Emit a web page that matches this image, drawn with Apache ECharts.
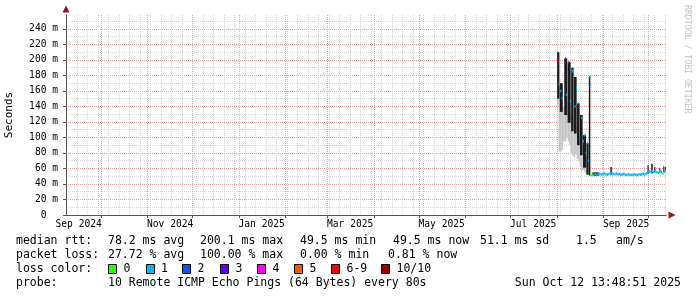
<!DOCTYPE html>
<html><head><meta charset="utf-8">
<script src="https://cdn.jsdelivr.net/npm/echarts@6/dist/echarts.min.js"></script>
<style>html,body{margin:0;padding:0;background:#fff}#c{width:697px;height:297px}</style>
</head><body><div id="c"></div>
<script>
// ---------- data ----------
const endTime = '2025-10-12 13:48:51';
const spanDays = 400;
const yMax = 258;
const yMajorTicks = [0,20,40,60,80,100,120,140,160,180,200,220,240];
const yMinorTicks = [10,30,50,70,90,110,130,150,170,190,210,230,250];
const xMajorMonths = ['2024-10-01','2024-11-01','2024-12-01','2025-01-01','2025-02-01','2025-03-01','2025-04-01','2025-05-01','2025-06-01','2025-07-01','2025-08-01','2025-09-01','2025-10-01'];
const xLabelDates = ['2024-09-16','2024-11-16','2025-01-16','2025-03-16','2025-05-16','2025-07-16','2025-09-16'];
const xLabelText = ['Sep 2024','Nov 2024','Jan 2025','Mar 2025','May 2025','Jul 2025','Sep 2025'];

// light smoke (daily)
const smokeDays = ['2025-08-01','2025-08-02','2025-08-03','2025-08-04','2025-08-05','2025-08-06','2025-08-07','2025-08-08','2025-08-09','2025-08-10','2025-08-11','2025-08-12','2025-08-13','2025-08-14','2025-08-15','2025-08-16','2025-08-17','2025-08-18','2025-08-19','2025-08-20','2025-08-21','2025-08-22'];
const smokeLow  = [140,82,82,84,95,95,100,95,90,80,77,75,78,72,69,62,56,58,56,54,53,51];
const smokeHigh = [185,165,150,145,140,150,145,140,135,130,125,120,115,108,100,95,90,85,80,75,70,60];

// dark smoke bars
const barStart = ['2025-08-01 00:00','2025-08-02 18:00','2025-08-05 18:00','2025-08-08 00:00','2025-08-10 08:00','2025-08-12 06:00','2025-08-14 06:00','2025-08-16 06:00','2025-08-18 06:00','2025-08-20 12:00','2025-08-22 03:00','2025-08-24 12:00','2025-09-05 12:00','2025-09-30 06:00','2025-10-02 18:00','2025-10-04 18:00','2025-10-08 00:00','2025-10-10 18:00','2025-10-12 00:00'];
const barEnd   = ['2025-08-02 12:00','2025-08-04 18:00','2025-08-07 18:00','2025-08-10 00:00','2025-08-12 00:00','2025-08-14 00:00','2025-08-16 00:00','2025-08-18 00:00','2025-08-20 06:00','2025-08-22 00:00','2025-08-23 03:00','2025-08-29 00:00','2025-09-06 12:00','2025-10-01 00:00','2025-10-03 18:00','2025-10-05 12:00','2025-10-08 18:00','2025-10-11 12:00','2025-10-12 12:00'];
const barLow   = [150,133,129,119,108,105,90,77,61,52,51,50.5,52,53,54,55,55,55,56];
const barHigh  = [210,170,202,197,190,178,144,129,103,93,179,55,62,64.5,66,62,60,63,62];

// median rtt marks (coloured by loss)
const markTime = ['2025-08-01 06:00','2025-08-02 00:00','2025-08-03 00:00','2025-08-04 00:00','2025-08-06 06:00','2025-08-07 00:00','2025-08-08 12:00','2025-08-09 12:00','2025-08-10 12:00','2025-08-11 00:00','2025-08-12 12:00','2025-08-13 12:00','2025-08-14 12:00','2025-08-15 12:00','2025-08-17 00:00','2025-08-18 00:00','2025-08-19 00:00','2025-08-20 00:00','2025-08-21 00:00','2025-08-21 12:00','2025-08-22 12:00','2025-08-22 18:00'];
const markValue = [198,169,160,151,202,155,197,147,187,185,140,164,144,138,125,95,103,80,93,70,178,168];
const markLoss  = [6,1,1,1,3,1,3,1,1,1,1,1,1,1,1,1,1,1,1,1,1,1];

// median rtt line (daily)
const lineDays = ['2025-08-23','2025-08-24','2025-08-25','2025-08-26','2025-08-27','2025-08-28','2025-08-29','2025-08-30','2025-08-31','2025-09-01','2025-09-02','2025-09-03','2025-09-04','2025-09-05','2025-09-06','2025-09-07','2025-09-08','2025-09-09','2025-09-10','2025-09-11','2025-09-12','2025-09-13','2025-09-14','2025-09-15','2025-09-16','2025-09-17','2025-09-18','2025-09-19','2025-09-20','2025-09-21','2025-09-22','2025-09-23','2025-09-24','2025-09-25','2025-09-26','2025-09-27','2025-09-28','2025-09-29','2025-09-30','2025-10-01','2025-10-02','2025-10-03','2025-10-04','2025-10-05','2025-10-06','2025-10-07','2025-10-08','2025-10-09','2025-10-10','2025-10-11','2025-10-12'];
const lineValue = [51.5,51.5,52,52.5,52,52.5,53,52.5,53,53.5,52.5,52,53,53.5,54,53,52.5,53.5,52.5,53,52,52.5,53,52,51.5,52.5,52,51.5,52,52.5,52,51.5,52.5,52,52.5,53,52.5,53.5,55.5,56,55,57,55.5,56.5,55,54.5,56,55.5,54,56,57];
const lineLoss  = [0,0,1,1,1,1,1,1,1,1,1,1,1,1,1,1,1,1,1,1,1,1,1,1,1,1,1,1,1,1,1,1,1,1,1,1,1,1,1,1,1,1,1,1,1,1,1,1,0,1,1];

const lossColors = ['#26ff00','#00b8ff','#0059ff','#5e00ff','#ff00ff','#ff5500','#ff0000','#a10000'];
const lossLabels = ['0','1','2','3','4','5','6-9','10/10'];
const rttStats  = ['median rtt:','78.2 ms avg','200.1 ms max','49.5 ms min','49.5 ms now','51.1 ms sd','1.5','am/s'];
const lossStats = ['packet loss:','27.72 % avg','100.00 % max','0.00 % min','0.81 % now'];
const probeText = ['probe:','10 Remote ICMP Echo Pings (64 Bytes) every 80s','Sun Oct 12 13:48:51 2025'];

// ---------- helpers ----------
const DAY = 86400000;
function ts(s){
  const [d, t='00:00'] = s.split(' ');
  const [Y,M,D] = d.split('-').map(Number);
  const [h,m,sec=0] = t.split(':').map(Number);
  return Date.UTC(Y, M-1, D, h, m, sec);
}
const xMax = ts(endTime);
const xMin = xMax - spanDays*DAY;
const weekly = [];
{
  let t = Date.UTC(2024,8,8); // first Sunday in range
  while (t <= xMax) { weekly.push(t); t += 7*DAY; }
}
const majorVals = xMajorMonths.map(ts);
const labelVals = xLabelDates.map(ts);

const smokeData = smokeDays.map((d,i)=>[ts(d), ts(d)+DAY, smokeLow[i], smokeHigh[i]]);
const barData = barStart.map((d,i)=>[ts(d), ts(barEnd[i]), barLow[i], barHigh[i]]);
const markData = markTime.map((d,i)=>[ts(d), ts(d)+DAY*0.75, markValue[i], markLoss[i]]);
const lineData = lineDays.map((d,i)=>[ts(d), ts(d)+DAY, lineValue[i], lineLoss[i]]);

function rangeRender(color){
  return function(params, api){
    const a = api.coord([api.value(0), api.value(3)]);
    const b = api.coord([api.value(1), api.value(2)]);
    return {type:'rect', shape:{x:a[0], y:a[1], width:Math.max(b[0]-a[0],1), height:Math.max(b[1]-a[1],1)}, style:{fill:color}};
  };
}
function markRender(h){
  return function(params, api){
    const a = api.coord([api.value(0), api.value(2)]);
    const b = api.coord([api.value(1), api.value(2)]);
    return {type:'rect', shape:{x:a[0], y:a[1]-h/2, width:Math.max(b[0]-a[0],1), height:h}, style:{fill:lossColors[api.value(3)]}};
  };
}

const MONO = "'DejaVu Sans Mono'";
const common = {type:'value', min:xMin, max:xMax, position:'bottom'};
const ycommon = {type:'value', min:0, max:yMax, position:'left'};

// legend graphics
const graphics = [];
const rowY = [241, 255, 269, 283];
const legFont = '11.5px ' + MONO;
const rttX = [16,108,200,300,393,480,576,616];
rttStats.forEach((s,i)=>graphics.push({type:'text', x:rttX[i], y:rowY[0], style:{text:s, font:legFont, fill:'#000', verticalAlign:'middle'}}));
const lossX = [16,108,200,300,388];
lossStats.forEach((s,i)=>graphics.push({type:'text', x:lossX[i], y:rowY[1], style:{text:s, font:legFont, fill:'#000', verticalAlign:'middle'}}));
graphics.push({type:'text', x:16, y:rowY[2], style:{text:'loss color:', font:legFont, fill:'#000', verticalAlign:'middle'}});
const boxX = [108,145.5,182,220,257,294,331,381];
lossLabels.forEach((s,i)=>{
  graphics.push({type:'rect', shape:{x:Math.round(boxX[i])+0.5, y:rowY[2]-4.5, width:8, height:9}, style:{fill:lossColors[i], stroke:'#000', lineWidth:1}});
  graphics.push({type:'text', x:boxX[i]+15.5, y:rowY[2], style:{text:s, font:legFont, fill:'#000', verticalAlign:'middle'}});
});
graphics.push({type:'text', x:16, y:rowY[3], style:{text:probeText[0], font:legFont, fill:'#000', verticalAlign:'middle'}});
graphics.push({type:'text', x:108, y:rowY[3], style:{text:probeText[1], font:legFont, fill:'#000', verticalAlign:'middle'}});
graphics.push({type:'text', x:681, y:rowY[3], style:{text:probeText[2], font:legFont, fill:'#000', verticalAlign:'middle', align:'right'}});
graphics.push({type:'text', x:687, y:5, rotation:-Math.PI/2, style:{text:'RRDTOOL / TOBI OETIKER', font:'8.2px '+MONO, fill:'#c4c4c4', verticalAlign:'middle', align:'left'}});

const chart = echarts.init(document.getElementById('c'), null, {renderer:'canvas'});
chart.setOption({
  animation:false,
  backgroundColor:'#fff',
  grid:{left:66, right:31, top:15, bottom:82, containLabel:false, outerBoundsMode:'none'},
  xAxis:[
    Object.assign({}, common, {axisLine:{show:false}, axisLabel:{show:false}, axisTick:{show:false, customValues:weekly},
      splitLine:{show:true, lineStyle:{color:'#d6d6d6', width:1, type:[1,1]}}}),
    Object.assign({}, common, {axisLine:{show:true, lineStyle:{color:'#8b1a1a', width:1}, symbol:['none','triangle'], symbolSize:[7,7], symbolOffset:[0,6]},
      axisLabel:{show:false}, axisTick:{show:true, customValues:majorVals, length:3, lineStyle:{color:'#555'}},
      splitLine:{show:true, lineStyle:{color:'#eaa0a0', width:1, type:[1,1]}}}),
    Object.assign({}, common, {z:1, axisLine:{show:true, lineStyle:{color:'#555', width:1}},
      axisTick:{show:false, customValues:labelVals},
      axisLabel:{show:true, customValues:labelVals, margin:4, color:'#000', fontFamily:MONO, fontSize:9.6,
        formatter:(v)=>{ const i = labelVals.indexOf(v); return i>=0 ? xLabelText[i] : ''; }},
      splitLine:{show:false}})
  ],
  yAxis:[
    Object.assign({}, ycommon, {axisLine:{show:false}, axisLabel:{show:false}, axisTick:{show:false, customValues:yMinorTicks},
      splitLine:{show:true, lineStyle:{color:'#d6d6d6', width:1, type:[1,1]}}}),
    Object.assign({}, ycommon, {axisLine:{show:true, lineStyle:{color:'#8b1a1a', width:1}, symbol:['none','triangle'], symbolSize:[7,7], symbolOffset:[0,6]},
      axisTick:{show:true, customValues:yMajorTicks, length:3, lineStyle:{color:'#555'}},
      axisLabel:{show:true, customValues:yMajorTicks, margin:8, color:'#000', fontFamily:MONO, fontSize:9.6,
        formatter:(v)=> v===0 ? '0  ' : v + ' m'},
      splitLine:{show:true, lineStyle:{color:'#eaa0a0', width:1, type:[1,1]}},
      name:'Seconds', nameLocation:'middle', nameGap:51, nameTextStyle:{fontFamily:MONO, fontSize:11, color:'#000'}}),
    Object.assign({}, ycommon, {z:1, axisLine:{show:true, lineStyle:{color:'#555', width:1}}, axisTick:{show:false}, axisLabel:{show:false}, splitLine:{show:false}})
  ],
  series:[
    {type:'custom', name:'smoke', xAxisIndex:0, yAxisIndex:0, clip:true, renderItem:rangeRender('#c4c4c4'), data:smokeData, encode:{x:[0,1], y:[2,3]}},
    {type:'custom', name:'smoke core', xAxisIndex:0, yAxisIndex:0, clip:true, renderItem:rangeRender('#1c1c1c'), data:barData, encode:{x:[0,1], y:[2,3]}},
    {type:'custom', name:'median line', xAxisIndex:0, yAxisIndex:0, clip:true, renderItem:markRender(2.5), data:lineData, encode:{x:[0,1], y:[2]}},
    {type:'custom', name:'median', xAxisIndex:0, yAxisIndex:0, clip:true, renderItem:markRender(2.5), data:markData, encode:{x:[0,1], y:[2]}}
  ],
  graphic: graphics
});
</script>
</body></html>
